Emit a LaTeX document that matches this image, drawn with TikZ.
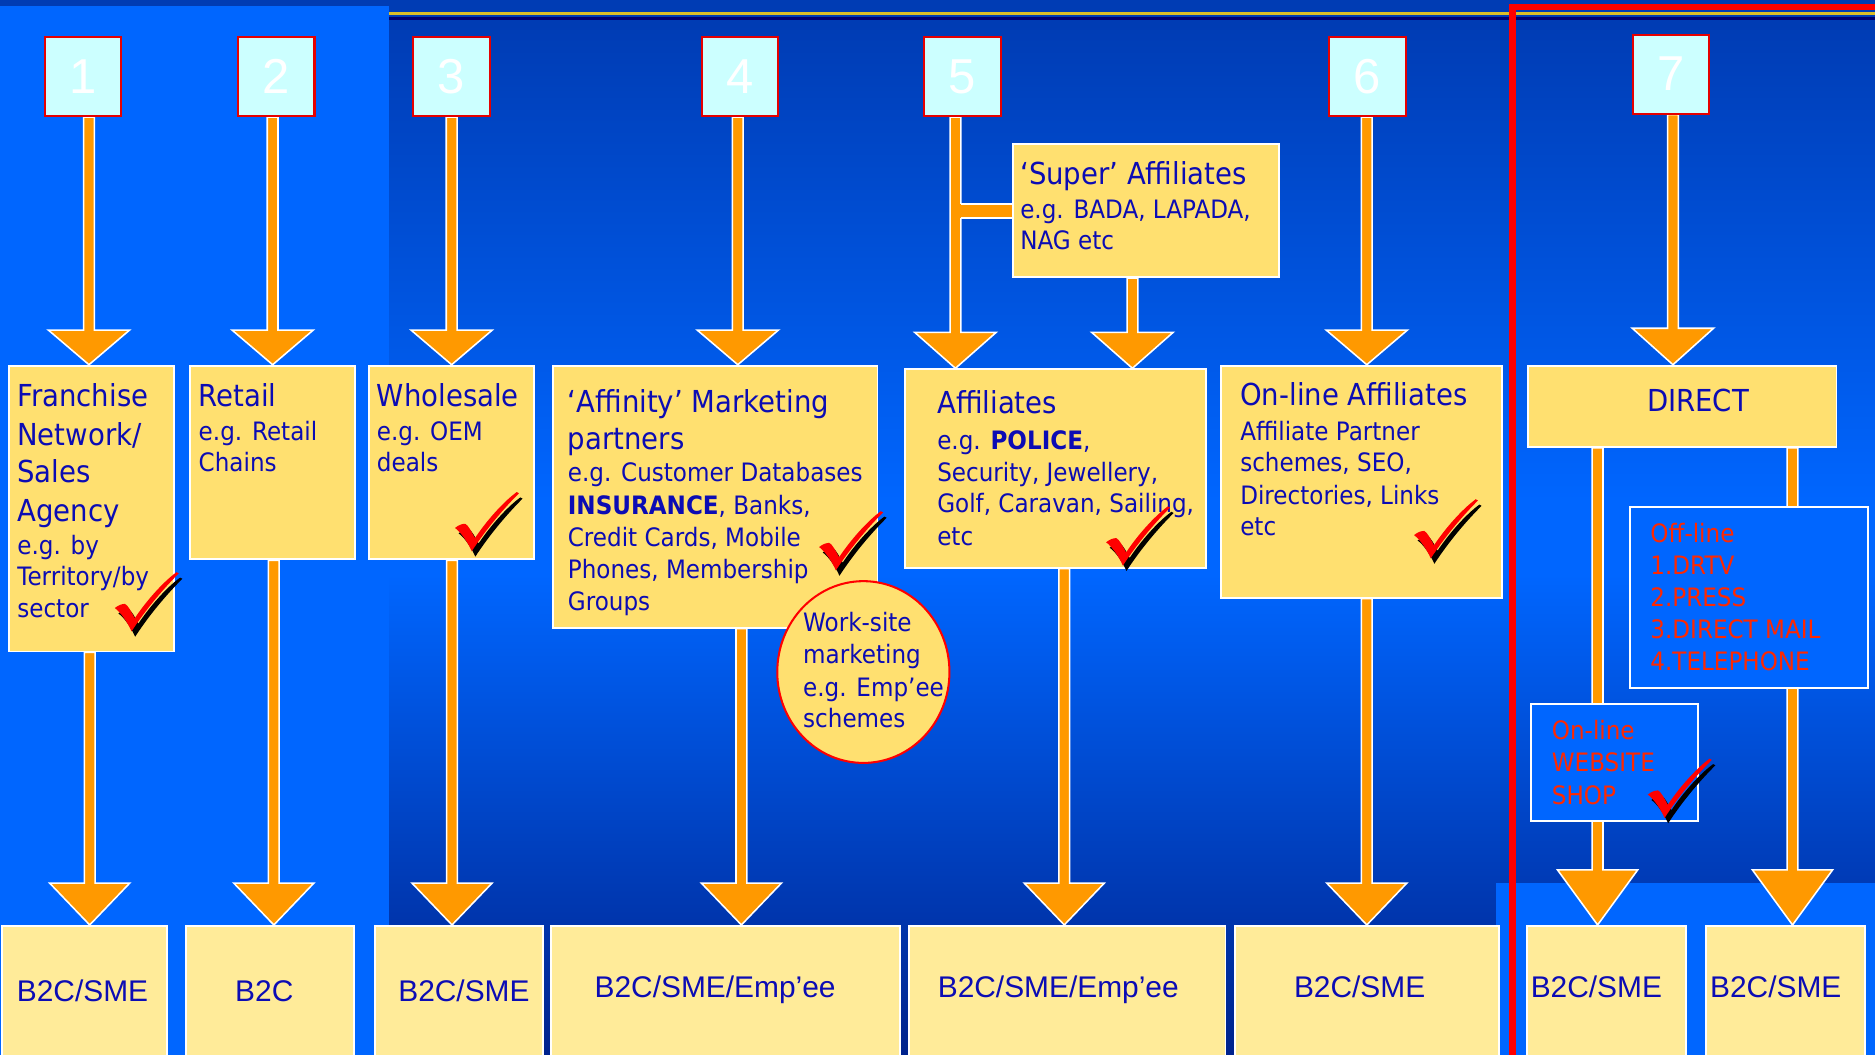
\documentclass[tikz,border=0pt]{standalone}
\usepackage{fontspec}
\setmainfont{DejaVu Sans}[FakeStretch=0.91]
\newfontfamily\arialf{Liberation Sans}
\usetikzlibrary{calc,shapes.geometric}
\pgfdeclarelayer{bg}
\pgfdeclarelayer{arr}
\pgfsetlayers{bg,arr,main}

\definecolor{bgtop}{RGB}{0,60,180}
\definecolor{bgmid}{RGB}{0,102,255}
\definecolor{bgbot}{RGB}{0,34,140}
\definecolor{goldl}{RGB}{220,190,40}
\definecolor{navyl}{RGB}{0,0,112}
\definecolor{frred}{RGB}{255,0,0}
\definecolor{numfill}{RGB}{204,255,255}
\definecolor{numred}{RGB}{230,0,0}
\definecolor{arrorange}{RGB}{255,153,0}
\definecolor{ybox}{RGB}{255,224,112}
\definecolor{ylight}{RGB}{255,235,153}
\definecolor{txtblue}{RGB}{12,12,180}
\definecolor{redtxt}{RGB}{255,40,0}

\newcommand\tfont{\fontsize{25.3}{32}\selectfont}
\newcommand\sfont{\fontsize{21.2}{27}\selectfont}
\newcommand\rfont{\fontsize{21.2}{27}\selectfont}
\newcommand\tline[2]{\baselineskip=#1pt\hbox{#2}}
\newcommand\tblock[1]{\vtop{\lineskiplimit=-\maxdimen\lineskip=0pt #1}}

\newcommand\fatarr[5]{%
  \path[fatarrow] let \p1=(#2.south), \p2=(#3.north) in
    (#1pt-4.5pt,\y1) -- (#1pt-4.5pt,\y2+#4pt) -- (#1pt-#5pt,\y2+#4pt) -- (#1pt,\y2)
    -- (#1pt+#5pt,\y2+#4pt) -- (#1pt+4.5pt,\y2+#4pt) -- (#1pt+4.5pt,\y1) -- cycle;}

\tikzset{
  numbox/.style={draw=numred, fill=numfill, line width=1.7pt, minimum width=64pt,
    minimum height=66pt, inner sep=0pt, text=white, font=\arialf\fontsize{41}{41}\selectfont},
  ybx/.style={fill=ybox, draw=white, line width=1.6pt, anchor=north west, inner sep=0pt},
  lbx/.style={fill=ylight, draw=white, line width=1.6pt, anchor=north west, inner sep=0pt},
  bbx/.style={fill=bgmid, draw=white, line width=1.6pt, anchor=north west, inner sep=0pt},
  txt/.style={anchor=base west, inner sep=0pt, text=txtblue},
  rtxt/.style={anchor=base west, inner sep=0pt, text=redtxt},
  btxt/.style={anchor=base, inner sep=0pt, text=txtblue, font=\arialf\fontsize{25}{30}\selectfont},
  fatarrow/.style={fill=arrorange, draw=white, line width=1.3pt, line join=miter},
  checkmk/.pic={
    \begin{scope}[shift={(3,4.5)}]
      \fill[black] (0,29.5) .. controls (3,27) and (6,26) .. (8.5,26)
        .. controls (11,27) and (14,33) .. (16.7,38)
        .. controls (26,24) and (40,8) .. (51.6,-0.5) -- (53.5,0.5)
        .. controls (42,12) and (27,29) .. (14,49)
        .. controls (11,42) and (5,33) .. (0,29.5) -- cycle;
    \end{scope}
    \fill[frred] (0,29.5) .. controls (3,27) and (6,26) .. (8.5,26)
        .. controls (11,27) and (14,33) .. (16.7,38)
        .. controls (26,24) and (40,8) .. (51.6,-0.5) -- (53.5,0.5)
        .. controls (42,12) and (27,29) .. (14,49)
        .. controls (11,42) and (5,33) .. (0,29.5) -- cycle;
  }
}

\begin{document}
\begin{tikzpicture}[x=1pt,y=-1pt]
\useasboundingbox (0,0) rectangle (1568,882);
\clip (0,0) rectangle (1568,882);

\begin{pgfonlayer}{bg}
  \fill[bgtop] (0,-2) rectangle (1570,20);
  \shade[top color=bgtop, bottom color=bgmid] (0,20) rectangle (1570,420);
  \fill[bgmid] (0,419) rectangle (1570,481);
  \shade[top color=bgmid, bottom color=bgbot] (0,480) rectangle (1570,884);
  \fill[bgmid] (0,5) rectangle (325.5,884);
  \fill[bgmid] (1251,738) rectangle (1570,884);
  \draw[goldl, line width=2pt] (325.5,11.2) -- (1570,11.2);
  \draw[navyl, line width=2.2pt] (325.5,15.6) -- (1570,15.6);
\end{pgfonlayer}

% number boxes
\node[numbox] (n1) at (69.5,64) {1};
\node[numbox] (n2) at (231,64) {2};
\node[numbox] (n3) at (377.5,64) {3};
\node[numbox] (n4) at (619,64) {4};
\node[numbox] (n5) at (805,64) {5};
\node[numbox] (n6) at (1143.5,64) {6};
\node[numbox] (n7) at (1397.5,62) {7};

% middle boxes
\node[ybx, minimum width=138pt, minimum height=239pt] (fr) at (7,305) {};
\node[ybx, minimum width=138pt, minimum height=162pt] (re) at (158,305) {};
\node[ybx, minimum width=138.2pt, minimum height=162pt] (wh) at (307.5,305) {};
\node[ybx, minimum width=271pt, minimum height=219pt] (af) at (462,305) {};
\node[ybx, minimum width=252pt, minimum height=166pt] (aff) at (756,308) {};
\node[ybx, minimum width=235pt, minimum height=194pt] (ona) at (1020,305) {};
\node[ybx, minimum width=258pt, minimum height=68pt] (dir) at (1277,305) {};
\node[ybx, minimum width=223pt, minimum height=111pt] (sup) at (846,120) {};

% bottom boxes
\node[lbx, minimum width=138pt, minimum height=130pt] (b1) at (0.8,773.5) {};
\node[lbx, minimum width=140pt, minimum height=130pt] (b2) at (155,773.5) {};
\node[lbx, minimum width=140pt, minimum height=130pt] (b3) at (313,773.5) {};
\node[lbx, minimum width=292pt, minimum height=130pt] (b4) at (460,773.5) {};
\node[lbx, minimum width=265pt, minimum height=130pt] (b5) at (759,773.5) {};
\node[lbx, minimum width=221pt, minimum height=130pt] (b6) at (1032,773.5) {};
\node[lbx, minimum width=133pt, minimum height=130pt] (b7a) at (1276,773.5) {};
\node[lbx, minimum width=133pt, minimum height=130pt] (b7b) at (1426,773.5) {};

% arrows
\begin{pgfonlayer}{arr}
  \fatarr{74.4}{n1}{fr}{29}{34}
  \fatarr{228}{n2}{re}{29}{34}
  \fatarr{377.7}{n3}{wh}{29}{34}
  \fatarr{617}{n4}{af}{29}{34}
  \fatarr{799}{n5}{aff}{30}{34}
  \fatarr{947}{sup}{aff}{30}{34}
  \fatarr{1143}{n6}{ona}{29}{34}
  \fatarr{1399}{n7}{dir}{30.5}{34}
  \fill[arrorange] let \p1=(sup.west) in (802,171) rectangle (\x1,-182pt);
  \draw[white, line width=1.3pt] let \p1=(sup.west) in
    (803.5,170.5) -- (\x1,-170.5pt) (803.5,182.5) -- (\x1,-182.5pt);
  \fatarr{75}{fr}{b1}{35}{33.5}
  \fatarr{229}{re}{b2}{35}{33.5}
  \fatarr{378}{wh}{b3}{35}{33.5}
  \fatarr{620}{af}{b4}{35}{33.5}
  \fatarr{890}{aff}{b5}{35}{33.5}
  \fatarr{1143}{ona}{b6}{35}{33.5}
  \fatarr{1336}{dir}{b7a}{46}{33.5}
  \fatarr{1499}{dir}{b7b}{46}{33.5}
\end{pgfonlayer}

% texts
\node[txt] (frt) at (14.3,340) {\tblock{\tline{0}{\tfont Franchise}\tline{32.3}{\tfont Network/}\tline{31.5}{\tfont Sales}\tline{32}{\tfont Agency}\tline{27.5}{\sfont e.g. by}\tline{26.5}{\sfont Territory/by}\tline{27}{\sfont sector}}};
\node[txt] (ret) at (166,340) {\tblock{\tline{0}{\tfont Retail}\tline{28}{\sfont e.g. Retail}\tline{26.5}{\sfont Chains}}};
\node[txt] (wht) at (315,340) {\tblock{\tline{0}{\tfont Wholesale}\tline{28}{\sfont e.g. OEM}\tline{26.5}{\sfont deals}}};
\node[txt] (aft) at (474.7,345) {\tblock{\tline{0}{\tfont ‘Affinity’ Marketing}\tline{30.5}{\tfont partners}\tline{27.5}{\sfont e.g. Customer Databases}\tline{27}{\sfont {\bfseries INSURANCE}, Banks,}\tline{27}{\sfont Credit Cards, Mobile}\tline{27}{\sfont Phones, Membership}\tline{26.7}{\sfont Groups}}};
\node[txt] (afft) at (783.6,346) {\tblock{\tline{0}{\tfont Affiliates}\tline{29.5}{\sfont e.g. {\bfseries POLICE},}\tline{27.3}{\sfont Security, Jewellery,}\tline{26.2}{\sfont Golf, Caravan, Sailing,}\tline{27.6}{\sfont etc}}};
\node[txt] (onat) at (1037,339.5) {\tblock{\tline{0}{\tfont On-line Affiliates}\tline{28.5}{\sfont Affiliate Partner}\tline{26.5}{\sfont schemes, SEO,}\tline{27}{\sfont Directories, Links}\tline{26}{\sfont etc}}};
\node[txt] (supt) at (853,154) {\tblock{\tline{0}{\tfont ‘Super’ Affiliates}\tline{28.5}{\sfont e.g. BADA, LAPADA,}\tline{26}{\sfont NAG etc}}};
\node[anchor=base, inner sep=0pt, text=txtblue, font=\tfont] (dirt) at (1420,344) {DIRECT};

% work-site ellipse
\node[ellipse, draw=frred, fill=ybox, line width=1.7pt, minimum width=144pt, minimum height=152pt, inner sep=0pt] (ws) at (722,562) {};
\node[txt] (wst) at (671.5,528) {\tblock{\tline{0}{\sfont Work-site}\tline{27}{\sfont marketing}\tline{27.6}{\sfont e.g. Emp’ee}\tline{25.4}{\sfont schemes}}};

% direct channel boxes
\node[bbx, minimum width=199pt, minimum height=151.5pt] (off) at (1362,423) {};
\node[bbx, minimum width=139.5pt, minimum height=98.4pt] (onl) at (1279.5,587.6) {};
\node[rtxt] (offt) at (1380,453.8) {\tblock{\tline{0}{\rfont Off-line}\tline{26.8}{\rfont 1.DRTV}\tline{26.8}{\rfont 2.PRESS}\tline{26.8}{\rfont 3.DIRECT MAIL}\tline{26.8}{\rfont 4.TELEPHONE}}};
\node[rtxt] (onlt) at (1297.6,618.8) {\tblock{\tline{0}{\rfont On-line}\tline{26.6}{\rfont WEBSITE}\tline{27.2}{\rfont SHOP}}};

% bottom texts
\node[btxt] (b1t) at (69,837.6) {B2C/SME};
\node[btxt] (b2t) at (221,837.6) {B2C};
\node[btxt] (b3t) at (388,837.6) {B2C/SME};
\node[btxt] (b4t) at (598,834.5) {B2C/SME/Emp’ee};
\node[btxt] (b5t) at (885,834.5) {B2C/SME/Emp’ee};
\node[btxt] (b6t) at (1137,834.5) {B2C/SME};
\node[btxt] (b7at) at (1335,834.5) {B2C/SME};
\node[btxt] (b7bt) at (1485,834.5) {B2C/SME};

% check marks
\pic at (96,479) {checkmk};
\pic at (380.5,412) {checkmk};
\pic at (685,428) {checkmk};
\pic at (925,424) {checkmk};
\pic at (1182.5,418) {checkmk};
\pic at (1378,635) {checkmk};

% red frame
\draw[frred, line width=5.5pt] (1265,890) -- (1265,5.9) -- (1575,5.9);
\end{tikzpicture}
\end{document}
